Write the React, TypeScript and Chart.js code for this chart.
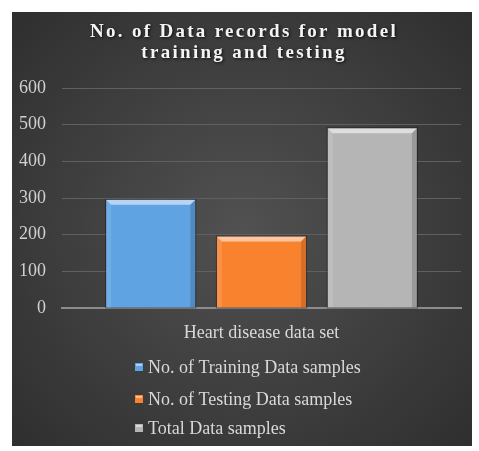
import React, { useEffect, useRef } from "react";
import { Chart, registerables } from "chart.js";

Chart.register(...registerables);

const categories = ["Heart disease data set"];
const seriesNames = [
  "No. of Training Data samples",
  "No. of Testing Data samples",
  "Total Data samples",
];
const trainingValues = [295];
const testingValues = [195];
const totalValues = [490];
const seriesColors = ["#5fa3e3", "#f9822f", "#b5b5b5"];
const titleLines = ["No. of Data records for model", "training and testing"];
const yMin = 0;
const yMax = 600;
const yStep = 100;

const SERIF = "'Liberation Serif', 'Times New Roman', serif";

const bgPlugin = {
  id: "bgPlugin",
  beforeDraw(chart: any) {
    const { ctx, width, height } = chart;
    ctx.save();
    const g = ctx.createRadialGradient(width / 2, height / 2, 0, width / 2, height / 2, Math.max(width, height) * 0.72);
    g.addColorStop(0, "#515151");
    g.addColorStop(1, "#2d2d2d");
    ctx.fillStyle = g;
    ctx.fillRect(0, 0, width, height);
    ctx.restore();
  },
};

const bevelPlugin = {
  id: "bevelPlugin",
  afterDatasetsDraw(chart: any) {
    const { ctx } = chart;
    chart.data.datasets.forEach((_: any, i: number) => {
      const meta = chart.getDatasetMeta(i);
      meta.data.forEach((el: any) => {
        const left = el.x - el.width / 2;
        const right = el.x + el.width / 2;
        const top = el.y;
        const bottom = el.base;
        const b = 5;
        ctx.save();
        const poly = (pts: number[][], fill: string) => {
          ctx.beginPath();
          ctx.moveTo(pts[0][0], pts[0][1]);
          for (let k = 1; k < pts.length; k++) ctx.lineTo(pts[k][0], pts[k][1]);
          ctx.closePath();
          ctx.fillStyle = fill;
          ctx.fill();
        };
        poly([[left, top], [right, top], [right - b, top + b], [left + b, top + b]], "rgba(255,255,255,0.55)");
        poly([[left, top], [left + b, top + b], [left + b, bottom], [left, bottom]], "rgba(255,255,255,0.12)");
        poly([[right, top], [right - b, top + b], [right - b, bottom], [right, bottom]], "rgba(0,0,0,0.15)");
        ctx.strokeStyle = "rgba(0,0,0,0.35)";
        ctx.lineWidth = 1;
        ctx.strokeRect(left - 0.5, top - 0.5, right - left + 1, bottom - top + 1);
        ctx.restore();
      });
    });
  },
};

const textPlugin = {
  id: "textPlugin",
  afterDraw(chart: any) {
    const { ctx, width } = chart;
    ctx.save();
    ctx.font = `bold 19px ${SERIF}`;
    (ctx as any).letterSpacing = "2.3px";
    ctx.textAlign = "center";
    ctx.textBaseline = "alphabetic";
    ctx.shadowColor = "rgba(0,0,0,0.8)";
    ctx.shadowBlur = 3;
    ctx.shadowOffsetX = 1;
    ctx.shadowOffsetY = 1;
    ctx.fillStyle = "#f4f4f4";
    const baselines = [25, 46];
    titleLines.forEach((line, i) => ctx.fillText(line, width / 2 + 2, baselines[i]));
    ctx.restore();

    ctx.save();
    ctx.font = `18px ${SERIF}`;
    ctx.textAlign = "left";
    ctx.textBaseline = "middle";
    const rows = [355, 387, 416];
    chart.data.datasets.forEach((ds: any, i: number) => {
      const y = rows[i];
      ctx.fillStyle = ds.backgroundColor;
      ctx.fillRect(123, y - 4, 8, 8);
      ctx.fillStyle = "rgba(255,255,255,0.5)";
      ctx.fillRect(124, y - 3, 6, 2);
      ctx.fillStyle = "#d9d9d9";
      ctx.fillText(ds.label, 136, y + 1);
    });
    ctx.restore();
  },
};

export default function App() {
  const ref = useRef<HTMLCanvasElement | null>(null);

  useEffect(() => {
    if (!ref.current) return;
    const values = [trainingValues, testingValues, totalValues];
    const chart = new Chart(ref.current, {
      type: "bar",
      data: {
        labels: categories,
        datasets: seriesNames.map((name, i) => ({
          label: name,
          data: values[i],
          backgroundColor: seriesColors[i],
          borderWidth: 0,
          categoryPercentage: 0.833,
          barPercentage: 0.805,
        })),
      },
      options: {
        responsive: false,
        animation: false,
        layout: { padding: { top: 76, left: 7, right: 11, bottom: 88 } },
        plugins: {
          legend: { display: false },
          title: { display: false },
          tooltip: { enabled: false },
        },
        scales: {
          x: {
            grid: { display: false },
            border: { display: true, color: "#8c8c8c", width: 2 },
            ticks: { color: "#d9d9d9", font: { family: SERIF, size: 18 }, padding: 6, maxRotation: 0 },
            afterFit(scale: any) {
              scale.height = 50;
            },
          },
          y: {
            min: yMin,
            max: yMax,
            ticks: { stepSize: yStep, color: "#d0d0d0", font: { family: SERIF, size: 18 }, padding: 16 },
            grid: { color: "#606060", lineWidth: 1, drawTicks: false },
            border: { display: false },
            afterFit(scale: any) {
              scale.width = 43;
            },
          },
        },
      },
      plugins: [bgPlugin, bevelPlugin, textPlugin],
    });
    return () => chart.destroy();
  }, []);

  return (
    <div style={{ position: "absolute", left: 12, top: 12 }}>
      <canvas ref={ref} width={460} height={434} style={{ display: "block" }} />
    </div>
  );
}
